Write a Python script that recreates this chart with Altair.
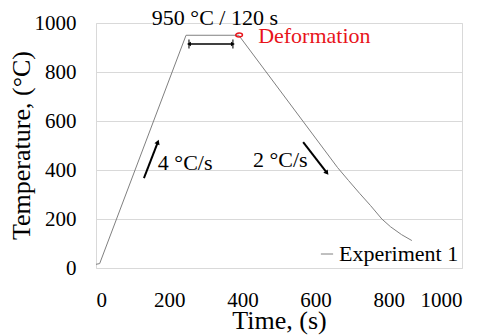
import altair as alt
import pandas as pd

# Temperature profile
time_s = [0, 10, 246, 390, 660, 690, 720, 750, 781, 805, 835, 863]
temp_c = [15, 18, 950, 950, 410, 357, 305, 255, 200, 168, 136, 112]
series = ["Experiment 1"] * len(time_s)

# Annotation arrows (start/end in data units)
arrow_x = [131, 566]
arrow_y = [367, 514]
arrow_x2 = [169, 631]
arrow_y2 = [514, 388]
arrow_angle = [21, 142]

hold_x = [254, 374]
hold_y = [914, 914]

labels = ["950 °C / 120 s", "4 °C/s", "2 °C/s"]
label_x = [325, 169, 429]
label_y = [992, 400, 412]

tick_values = [0, 200, 400, 600, 800, 1000]

FONT = "Liberation Serif, Times New Roman, serif"

df = pd.DataFrame({"Time": time_s, "Temp": temp_c, "Series": series})
arrows = pd.DataFrame({"x": arrow_x, "y": arrow_y, "x2": arrow_x2, "y2": arrow_y2, "angle": arrow_angle})
hold = pd.DataFrame({"x": [hold_x[0]], "x2": [hold_x[1]], "y": [hold_y[0]]})
hold_ends = pd.DataFrame({"x": hold_x, "y": hold_y, "shape": ["triangle-left", "triangle-right"]})
text_df = pd.DataFrame({"x": label_x, "y": label_y, "t": labels})

xs = alt.Scale(domain=[0, 1000])
ys = alt.Scale(domain=[0, 1000])

line = alt.Chart(df).mark_line(strokeWidth=1).encode(
    x=alt.X("Time:Q", scale=xs, title="Time, (s)",
            axis=alt.Axis(values=tick_values, grid=False, format="d",
                          labelFont=FONT, labelFontSize=21, titleFont=FONT, labelPadding=21,
                          titleBaseline="alphabetic", titleY=60)),
    y=alt.Y("Temp:Q", scale=ys, title="Temperature, (°C)",
            axis=alt.Axis(values=tick_values, format="d",
                          labelFont=FONT, labelFontSize=21, titleFont=FONT, labelPadding=20,
                          titleBaseline="alphabetic", titleX=-67, titleY=122,
                          titleAlign="center", titleAngle=270)),
    color=alt.Color("Series:N", scale=alt.Scale(range=["#808080"]),
                    legend=alt.Legend(title=None, orient="bottom-right", symbolType="stroke",
                                      symbolStrokeWidth=1, symbolSize=150, labelFont=FONT,
                                      labelFontSize=22, labelColor="black", offset=3,
                                      padding=0, symbolOffset=0, labelOffset=1)),
)

arrow_rules = alt.Chart(arrows).mark_rule(color="black", strokeWidth=2).encode(
    x="x:Q", y="y:Q", x2="x2:Q", y2="y2:Q"
)
arrow_heads = alt.Chart(arrows).mark_point(shape="triangle-up", filled=True, color="black",
                                            size=30, opacity=1).encode(
    x="x2:Q", y="y2:Q", angle=alt.Angle("angle:Q", scale=None)
)

hold_rule = alt.Chart(hold).mark_rule(color="black", strokeWidth=1.5).encode(
    x="x:Q", x2="x2:Q", y="y:Q"
)
hold_bars = alt.Chart(hold_ends).mark_tick(color="black", thickness=1.5, size=9, orient="vertical").encode(
    x="x:Q", y="y:Q"
)
hold_heads = alt.Chart(hold_ends).mark_point(filled=True, color="black", size=20, opacity=1).encode(
    x="x:Q", y="y:Q", shape=alt.Shape("shape:N", scale=None)
)

ellipse = alt.Chart(pd.DataFrame({"x": [391], "y": [951]})).mark_point(
    shape="M -1 0 A 1 0.6 0 1 0 1 0 A 1 0.6 0 1 0 -1 0 Z", color="#e8141b",
    strokeWidth=1.5, size=45, filled=False, opacity=1
).encode(x="x:Q", y="y:Q")

deform = alt.Chart(pd.DataFrame({"x": [443], "y": [918], "t": ["Deformation"]})).mark_text(
    align="left", baseline="alphabetic", font=FONT, fontSize=22, color="#e8141b"
).encode(x="x:Q", y="y:Q", text="t:N")

texts_c = alt.Chart(text_df.iloc[[0]]).mark_text(
    align="center", baseline="alphabetic", font=FONT, fontSize=22, color="black"
).encode(x="x:Q", y="y:Q", text="t:N")
texts_l = alt.Chart(text_df.iloc[1:]).mark_text(
    align="left", baseline="alphabetic", font=FONT, fontSize=22, color="black"
).encode(x="x:Q", y="y:Q", text="t:N")

chart = alt.layer(
    line, arrow_rules, arrow_heads, hold_rule, hold_bars, hold_heads, ellipse, deform, texts_c, texts_l
).properties(
    width=366, height=245, autosize=alt.AutoSizeParams(type="none"),
    padding={"left": 88, "top": 15, "right": 15, "bottom": 70}
).configure(
    font=FONT
).configure_view(
    stroke="#d9d9d9", strokeWidth=1
).configure_axis(
    labelFont=FONT, labelFontSize=21, labelColor="black",
    titleFont=FONT, titleFontSize=26, titleFontWeight="normal", titleColor="black",
    domain=False, ticks=False, gridColor="#d9d9d9", gridWidth=1
).configure_axisX(
    labelFont=FONT
).configure_axisY(
    labelFont=FONT
)

chart.save("out.html", embed_options={"renderer": "svg", "actions": False})
